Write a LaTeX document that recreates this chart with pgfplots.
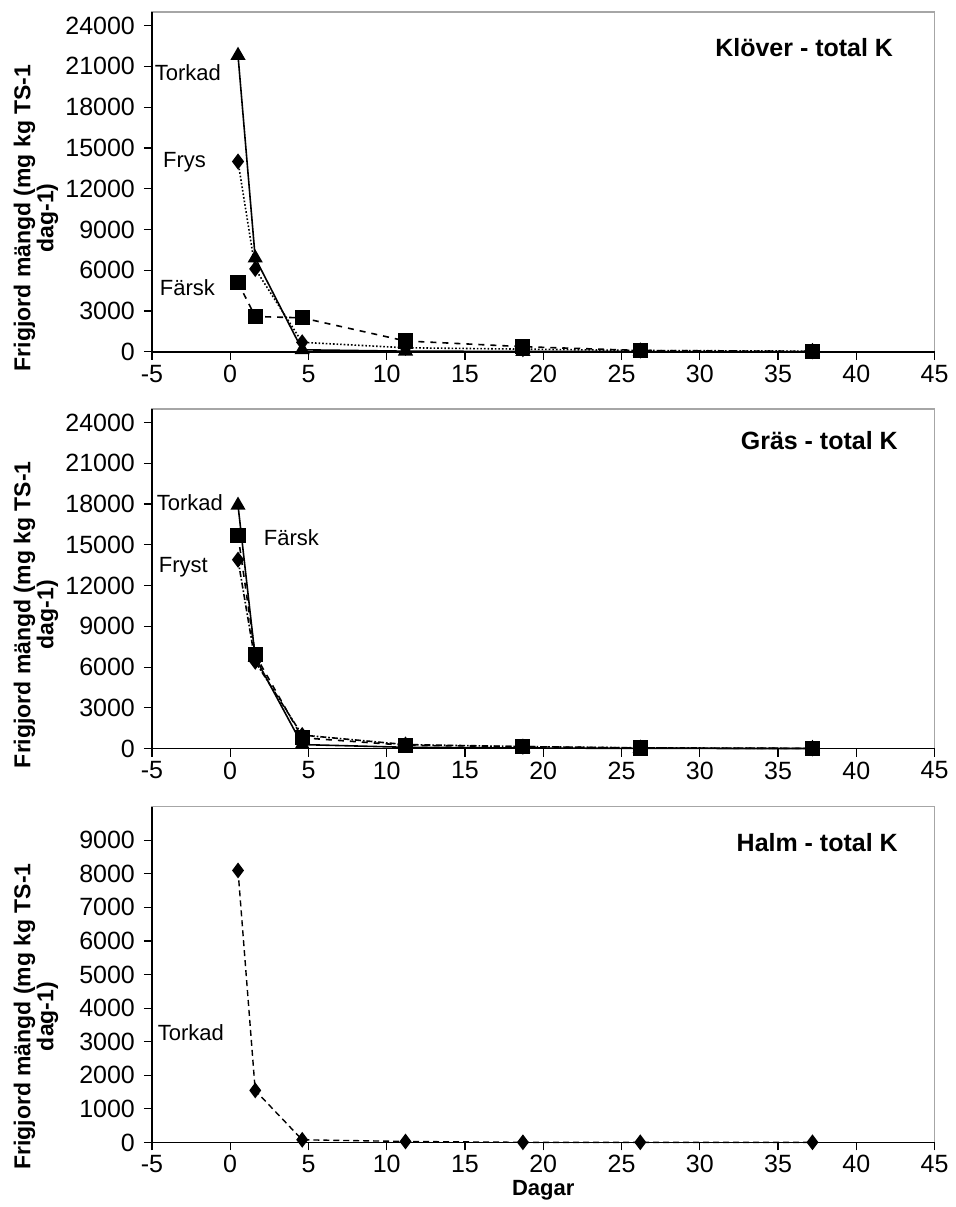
\documentclass[border=0pt]{standalone}
\usepackage{pgfplots}
\pgfplotsset{compat=1.18}
\usepackage{fontspec}
\setmainfont{Liberation Sans}
\begin{document}
\begin{tikzpicture}
\path (0,0) rectangle (476pt,-603.5pt);
\pgfplotsset{
  myax/.style={
    scale only axis, width=391.5pt, xmin=-5, xmax=45,
    xtick={-5,0,...,45},
    scaled ticks=false,
    xtick pos=bottom, ytick pos=left, tick align=outside,
    major tick length=4pt,
    tick style={black, line width=0.6pt},
    axis line style={gray!70, line width=0.7pt},
    /pgf/number format/1000 sep={},
    /pgf/number format/assume math mode=true,
    every tick label/.append style={font=\fontsize{12.5}{14}\selectfont},
    xticklabel style={yshift=1pt},
    yticklabel style={xshift=-1pt},
    clip=false,
  },
  blk/.style={draw=black, line width=0.8pt},
}
\newcommand{\frameblack}{\draw[black, line width=0.8pt] (rel axis cs:0,1)--(rel axis cs:0,0)--(rel axis cs:1,0);}
\newcommand{\ylab}[1]{\node[rotate=90, align=center, font=\bfseries\fontsize{11.5}{11.5}\selectfont] at ([xshift=-58pt]rel axis cs:0,#1) {Frigjord mängd (mg kg TS-1\\dag-1)};}
% ---------- Klöver
\begin{axis}[myax, at={(76pt,-176pt)}, anchor=south west, height=170pt,
  ymin=0, ymax=25000, ytick={0,3000,...,24000}]
\frameblack
\addplot[blk, solid, mark=triangle*, mark size=3.6pt, mark options={solid}] coordinates {
(0.5,21800) (1.6,6900) (4.6,150) (11.2,50) (18.7,30) (26.2,20) (37.2,10)};
\addplot[blk, densely dotted, mark=diamond*, mark size=3.4pt, mark options={solid}] coordinates {
(0.5,14000) (1.6,6100) (4.6,700) (11.2,300) (18.7,200) (26.2,100) (37.2,50)};
\addplot[blk, dashed, mark=square*, mark size=3.4pt, mark options={solid}] coordinates {
(0.5,5100) (1.6,2600) (4.6,2500) (11.2,800) (18.7,380) (26.2,100) (37.2,30)};
\node[anchor=east, font=\fontsize{11}{13}\selectfont] at (axis cs:-0.15,20540) {Torkad};
\node[anchor=east, font=\fontsize{11}{13}\selectfont] at (axis cs:-1.1,13940) {Frys};
\node[anchor=east, font=\fontsize{11}{13}\selectfont] at (axis cs:-0.53,4690) {Färsk};
\node[anchor=east, font=\bfseries\fontsize{12.5}{14}\selectfont] at (axis cs:42.8,22370) {Klöver - total K};
\ylab{0.394}
\end{axis}
% ---------- Gräs
\begin{axis}[myax, at={(76pt,-374.5pt)}, anchor=south west, height=170pt,
  ymin=0, ymax=25000, ytick={0,3000,...,24000}]
\frameblack
\addplot[blk, solid, mark=triangle*, mark size=3.6pt, mark options={solid}] coordinates {
(0.5,17900) (1.6,6700) (4.6,300) (11.2,100) (18.7,50) (26.2,20) (37.2,10)};
\addplot[blk, dashed, mark=square*, mark size=3.4pt, mark options={solid}] coordinates {
(0.5,15700) (1.6,6900) (4.6,800) (11.2,250) (18.7,150) (26.2,50) (37.2,20)};
\addplot[blk, densely dash dot, mark=diamond*, mark size=3.4pt, mark options={solid}] coordinates {
(0.5,13900) (1.6,6400) (4.6,1000) (11.2,300) (18.7,150) (26.2,60) (37.2,20)};
\node[anchor=east, font=\fontsize{11}{13}\selectfont] at (axis cs:-0.02,18110) {Torkad};
\node[anchor=west, font=\fontsize{11}{13}\selectfont] at (axis cs:1.7,15530) {Färsk};
\node[anchor=east, font=\fontsize{11}{13}\selectfont] at (axis cs:-0.98,13330) {Fryst};
\node[anchor=east, font=\bfseries\fontsize{12.5}{14}\selectfont] at (axis cs:43.1,22670) {Gräs - total K};
\ylab{0.394}
\end{axis}
% ---------- Halm
\begin{axis}[myax, at={(76pt,-571.5pt)}, anchor=south west, height=168pt,
  ymin=0, ymax=10000, ytick={0,1000,...,9000}]
\frameblack
\addplot[blk, densely dashed, line width=0.7pt, mark=diamond*, mark size=3.4pt, mark options={solid}] coordinates {
(0.5,8100) (1.6,1550) (4.6,80) (11.2,30) (18.7,5) (26.2,5) (37.2,5)};
\node[anchor=east, font=\fontsize{11}{13}\selectfont] at (axis cs:0.05,3270) {Torkad};
\node[anchor=east, font=\bfseries\fontsize{12.5}{14}\selectfont] at (axis cs:43.1,8930) {Halm - total K};
\node[font=\bfseries\fontsize{11}{12}\selectfont] at ([yshift=-24pt]axis cs:20,0) {Dagar};
\ylab{0.375}
\end{axis}
\end{tikzpicture}
\end{document}
